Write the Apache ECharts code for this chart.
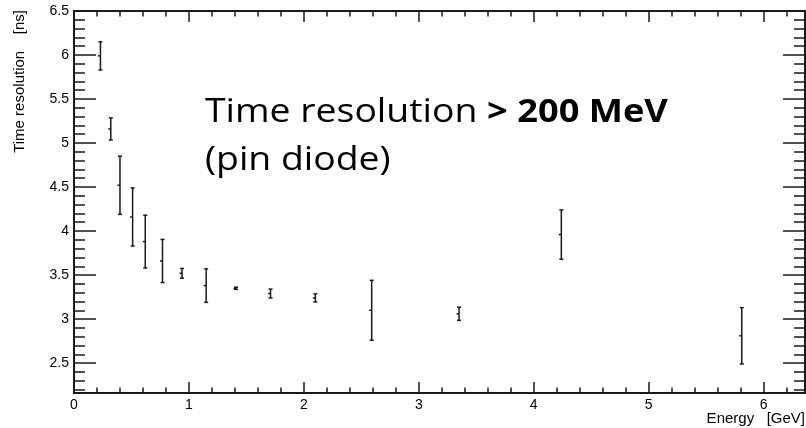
<!DOCTYPE html>
<html>
<head>
<meta charset="utf-8">
<script src="https://cdn.jsdelivr.net/npm/echarts@6/dist/echarts.min.js"></script>
<style>
  html, body { margin: 0; padding: 0; background: #fff; }
  #chart { width: 806px; height: 428px; }
</style>
</head>
<body>
<div id="chart"></div>
<script>
// measured points: energy [GeV], time resolution [ns], error [ns]
const energy = [0.23, 0.32, 0.40, 0.51, 0.62, 0.77, 0.94, 1.15, 1.41, 1.71, 2.10, 2.59, 3.35, 4.24, 5.81]
const resolution = [5.99, 5.16, 4.52, 4.16, 3.88, 3.66, 3.52, 3.38, 3.35, 3.29, 3.24, 3.10, 3.06, 3.96, 2.81]
const resError = [0.16, 0.125, 0.33, 0.33, 0.30, 0.245, 0.055, 0.19, 0.012, 0.05, 0.046, 0.34, 0.075, 0.28, 0.32]

const xTicks = [0, 1, 2, 3, 4, 5, 6]
const yTicks = [2.5, 3, 3.5, 4, 4.5, 5, 5.5, 6, 6.5]
const xRange = [0, 6.36]
const yRange = [2.16, 6.5]

// minor ticks every 0.2 GeV and 0.1 ns
const xMinor = []
for (let v = 0.2; v < xRange[1]; v += 0.2) xMinor.push(Math.round(v * 10) / 10)
const yMinor = []
for (let v = 2.2; v <= yRange[1] + 1e-9; v += 0.1) yMinor.push(Math.round(v * 10) / 10)

const points = energy.map((e, i) => [e, resolution[i], resError[i]])

const axisFont = 'Liberation Sans, Arial, sans-serif'
const ink = '#1a1a1a'

const makeX = (position, ticks, len, withLabels, withLine) => ({
  type: 'value',
  position,
  min: xRange[0],
  max: xRange[1],
  axisLine: { show: withLine, onZero: false, lineStyle: { color: ink, width: 2 } },
  axisTick: { show: true, inside: true, length: len, customValues: ticks, lineStyle: { color: ink, width: 1.5 } },
  axisLabel: withLabels
    ? { show: true, customValues: xTicks, color: '#000', fontSize: 14, fontFamily: axisFont, margin: 5 }
    : { show: false },
  splitLine: { show: false }
})

const makeY = (position, ticks, len, withLabels, withLine) => ({
  type: 'value',
  position,
  min: yRange[0],
  max: yRange[1],
  axisLine: { show: withLine, onZero: false, lineStyle: { color: ink, width: 2 } },
  axisTick: { show: true, inside: true, length: len, customValues: ticks, lineStyle: { color: ink, width: 1.5 } },
  axisLabel: withLabels
    ? { show: true, customValues: yTicks, color: '#000', fontSize: 14, fontFamily: axisFont, margin: 5 }
    : { show: false },
  splitLine: { show: false }
})

const renderErrorBar = (params, api) => {
  const x = api.value(0)
  const y = api.value(1)
  const err = api.value(2)
  const top = api.coord([x, y + err])
  const bot = api.coord([x, y - err])
  const mid = api.coord([x, y])
  const cap = 2
  const style = { stroke: ink, lineWidth: 1.5 }
  return {
    type: 'group',
    children: [
      { type: 'line', shape: { x1: top[0], y1: top[1], x2: bot[0], y2: bot[1] }, style },
      { type: 'line', shape: { x1: top[0] - cap, y1: top[1], x2: top[0] + cap, y2: top[1] }, style },
      { type: 'line', shape: { x1: bot[0] - cap, y1: bot[1], x2: bot[0] + cap, y2: bot[1] }, style },
      { type: 'line', shape: { x1: mid[0] - 2.5, y1: mid[1], x2: mid[0], y2: mid[1] }, style }
    ]
  }
}

const chart = echarts.init(document.getElementById('chart'), null, { renderer: 'canvas' })

chart.setOption({
  backgroundColor: '#fff',
  animation: false,
  grid: { left: 74, right: 1, top: 11, bottom: 35 },
  xAxis: [
    makeX('bottom', xTicks, 11, true, true),
    makeX('bottom', xMinor, 5.5, false, false),
    makeX('top', xTicks, 11, false, true),
    makeX('top', xMinor, 5.5, false, false)
  ],
  yAxis: [
    makeY('left', yTicks, 22, true, true),
    makeY('left', yMinor, 11, false, false),
    makeY('right', yTicks, 22, false, true),
    makeY('right', yMinor, 11, false, false)
  ],
  series: [{
    type: 'custom',
    xAxisIndex: 0,
    yAxisIndex: 0,
    renderItem: renderErrorBar,
    encode: { x: 0, y: 1 },
    data: points,
    clip: false
  }],
  graphic: [
    {
      type: 'text',
      x: 20,
      y: 10,
      rotation: Math.PI / 2,
      style: {
        text: 'Time resolution    [ns]',
        font: '15px Liberation Sans, Arial, sans-serif',
        fill: '#000',
        textAlign: 'right',
        textVerticalAlign: 'middle'
      }
    },
    {
      type: 'text',
      right: 1,
      top: 411,
      style: {
        text: 'Energy   [GeV]',
        font: '15px Liberation Sans, Arial, sans-serif',
        fill: '#000'
      }
    },
    {
      type: 'text',
      x: 205,
      y: 89,
      scaleX: 1.15,
      style: {
        text: '{n|Time resolution }{b|> 200 MeV}\n{n|(pin diode)}',
        textAlign: 'left',
        textVerticalAlign: 'top',
        rich: {
          n: { fontFamily: 'Open Sans', fontSize: 32.5, color: '#454545', lineHeight: 48 },
          b: { fontFamily: 'Open Sans', fontSize: 31.5, fontWeight: 'bold', color: '#454545', lineHeight: 48 }
        }
      }
    }
  ]
})
</script>
</body>
</html>
